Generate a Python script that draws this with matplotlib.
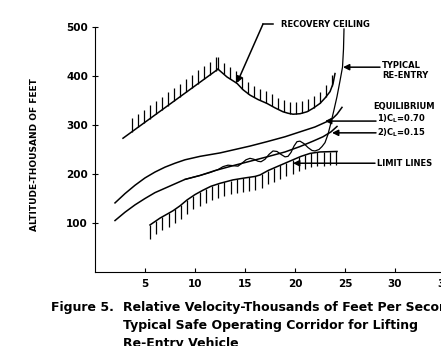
import matplotlib
matplotlib.use("Agg")
import matplotlib.pyplot as plt
import numpy as np

# velocity (thousand ft/s) vs altitude (thousand ft)
ceil_left_v = [2.8, 12.3]
ceil_left_h = [273, 414]
ceil_u_v = [12.3, 13.2, 14.2, 14.8, 15.5, 16.3, 17.2, 18.0, 18.8, 19.3, 19.8,
            20.5, 21.2, 21.8, 22.5, 23.0, 23.5, 23.8, 24.0]
ceil_u_h = [414, 398, 385, 372, 361, 352, 344, 335, 327, 324, 322,
            323, 327, 334, 344, 355, 368, 384, 405]

eq70_v = [2.0, 3.0, 4.0, 5.0, 6.0, 7.0, 8.0, 9.0, 10.5, 12.5, 14.0, 15.5,
          17.2, 19.0, 20.5, 22.0, 23.2, 23.8, 24.2, 24.7]
eq70_h = [141, 160, 177, 192, 204, 214, 222, 229, 236, 243, 250, 257,
          266, 276, 286, 296, 307, 314, 322, 336]
eq15_v = [2.0, 3.0, 4.0, 5.0, 6.0, 7.0, 8.0, 9.0, 10.5, 12.0, 13.8, 15.5,
          17.2, 19.0, 20.5, 21.8, 22.8, 23.6, 24.2]
eq15_h = [105, 122, 137, 150, 162, 171, 180, 189, 197, 207, 217, 226,
          235, 245, 256, 267, 276, 286, 297]

limit_v = [5.5, 6.0, 6.5, 7.2, 7.8, 8.5, 9.2, 10.0, 10.8, 11.6, 12.5, 13.8,
           15.0, 16.0, 16.5, 17.3, 18.2, 19.0, 19.8, 20.6, 21.5, 22.5, 24.2]
limit_h = [96, 103, 110, 118, 125, 135, 147, 158, 167, 175, 181, 188,
           192, 195, 198, 207, 215, 222, 229, 236, 242, 245, 246]

entry_v = [9.0, 10.5, 11.5, 12.3, 12.8, 13.3, 13.8, 14.3, 14.7, 15.1, 15.5,
           15.9, 16.3, 16.6, 17.0, 17.4, 17.8, 18.2, 18.6, 19.0, 19.3, 19.6,
           19.9, 20.2, 20.5, 20.9, 21.3, 21.7, 22.0, 22.4, 22.7, 23.0, 23.3,
           23.6, 23.9, 24.2, 24.5, 24.75, 24.85, 24.9]
entry_h = [189, 197, 203, 209, 215, 218, 217, 216, 222, 229, 232,
           230, 226, 225, 230, 240, 247, 246, 240, 235, 236, 244,
           257, 266, 267, 262, 254, 248, 247, 250, 256, 264, 281,
           305, 331, 358, 390, 418, 455, 496]

xticks = [5, 10, 15, 20, 25, 30, 35]
yticks = [100, 200, 300, 400, 500]

fig = plt.figure(figsize=(4.41, 3.46), dpi=100)
ax = fig.add_axes([95 / 441, 74 / 346, 360 / 441, 245 / 346])
ax.set_xlim(0, 36)
ax.set_ylim(0, 500)

lw = 1.1
ax.plot(ceil_left_v, ceil_left_h, 'k-', lw=lw)
ax.plot(ceil_u_v, ceil_u_h, 'k-', lw=lw)
ax.plot(eq70_v, eq70_h, 'k-', lw=lw)
ax.plot(eq15_v, eq15_h, 'k-', lw=lw)
ax.plot(limit_v, limit_h, 'k-', lw=lw)
ax.plot(entry_v, entry_h, 'k-', lw=0.9)

# hatching: above the ceiling, below the limit line
hx = np.arange(3.7, 12.3, 0.6)
ax.vlines(hx, np.interp(hx, ceil_left_v, ceil_left_h),
          np.interp(hx, ceil_left_v, ceil_left_h) + 27, colors='k', lw=0.9)
hx = np.arange(12.3, 24.1, 0.6)
ax.vlines(hx, np.interp(hx, ceil_u_v, ceil_u_h),
          np.interp(hx, ceil_u_v, ceil_u_h) + 24, colors='k', lw=0.9)
hx = np.arange(5.5, 24.3, 0.62)
ax.vlines(hx, np.interp(hx, limit_v, limit_h) - 28,
          np.interp(hx, limit_v, limit_h), colors='k', lw=0.9)

# labels and arrows
tfont = dict(fontsize=6, fontweight='bold', va='center', ha='left')
arr = dict(arrowstyle='-|>', color='k', lw=1.1, mutation_scale=9,
           shrinkA=0, shrinkB=0)
ax.plot([17.8, 16.8], [506, 506], 'k-', lw=1.1, clip_on=False)
ax.annotate('', xy=(14.2, 386), xytext=(16.8, 506), arrowprops=arr,
            annotation_clip=False)
ax.text(18.6, 506, 'RECOVERY CEILING', clip_on=False, **tfont)

ax.annotate('', xy=(24.8, 418), xytext=(28.5, 418), arrowprops=arr)
ax.text(28.7, 422, 'TYPICAL', **tfont)
ax.text(28.7, 400, 'RE-ENTRY', **tfont)

ax.text(27.8, 337, 'EQUILIBRIUM', **tfont)
ax.annotate('', xy=(23.0, 308), xytext=(28.1, 308), arrowprops=arr)
ax.text(28.2, 313, r'1)C$_\mathbf{L}$=0.70', **tfont)
ax.annotate('', xy=(23.7, 284), xytext=(28.1, 284), arrowprops=arr)
ax.text(28.2, 284, r'2)C$_\mathbf{L}$=0.15', **tfont)

ax.annotate('', xy=(19.8, 222), xytext=(28.0, 222), arrowprops=arr)
ax.text(28.2, 222, 'LIMIT LINES', **tfont)

ax.spines['top'].set_visible(False)
ax.spines['right'].set_visible(False)
ax.set_xticks(xticks)
ax.set_yticks(yticks)
ax.tick_params(axis='x', direction='in', length=3, labelsize=7.5, pad=5)
ax.tick_params(axis='y', direction='inout', length=4, labelsize=7.5, pad=3)
for lab in ax.get_xticklabels() + ax.get_yticklabels():
    lab.set_fontweight('bold')
ax.set_ylabel('ALTITUDE-THOUSAND OF FEET', fontsize=6.5, fontweight='bold')
ax.yaxis.set_label_coords(-56 / 360, 0.48)

cfont = dict(fontsize=9, fontweight='bold', va='center', ha='left')
fig.text(51 / 441, 1 - 308 / 346, 'Figure 5.', **cfont)
fig.text(123 / 441, 1 - 308 / 346, 'Relative Velocity-Thousands of Feet Per Second', **cfont)
fig.text(123 / 441, 1 - 326 / 346, 'Typical Safe Operating Corridor for Lifting', **cfont)
fig.text(123 / 441, 1 - 344 / 346, 'Re-Entry Vehicle', **cfont)

fig.savefig('out.png', dpi=100)
